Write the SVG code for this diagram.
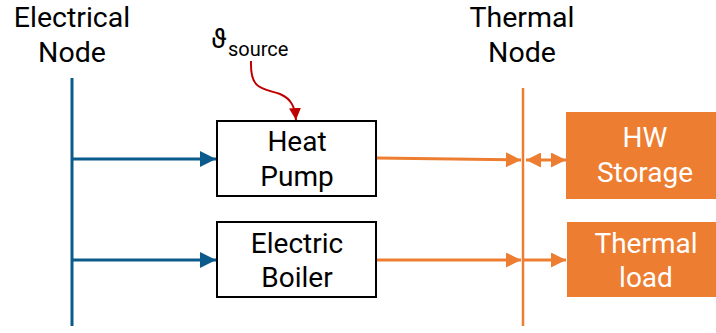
<svg xmlns="http://www.w3.org/2000/svg" width="716" height="333" viewBox="0 0 716 333">
<style>
text{font-family:Roboto,"Liberation Sans",sans-serif;text-anchor:middle}
.lbl{font-size:28.5px;fill:#000}
.box{fill:#fff;stroke:#000;stroke-width:2}
.bt{font-size:28px;fill:#000}
.obox{fill:#ed7d31}
.ot{font-size:28px;fill:#fff}
.blue{stroke:#0b5a8c;stroke-width:3;fill:none}
.orange{stroke:#ed7d31;stroke-width:3;fill:none}
</style>
<defs>
<marker id="ab" viewBox="0 0 10 10" refX="10" refY="5" markerWidth="16" markerHeight="16" markerUnits="userSpaceOnUse" orient="auto"><path d="M0,0 L10,5 L0,10 z" fill="#0b5a8c"/></marker>
<marker id="ao" viewBox="0 0 10 10" refX="10" refY="5" markerWidth="16" markerHeight="15" orient="auto" markerUnits="userSpaceOnUse"><path d="M0,0 L10,5 L0,10 z" fill="#ed7d31"/></marker>
<marker id="aos" viewBox="0 0 10 10" refX="0" refY="5" markerWidth="16" markerHeight="15" orient="auto" markerUnits="userSpaceOnUse"><path d="M10,0 L0,5 L10,10 z" fill="#ed7d31"/></marker>
<marker id="ar" viewBox="0 0 10 10" refX="10" refY="5" markerWidth="12" markerHeight="12" markerUnits="userSpaceOnUse" orient="auto"><path d="M0,0 L10,5 L0,10 z" fill="#c00000"/></marker>
</defs>
<g id="electrical-node">
<text class="lbl" x="72" y="27">Electrical</text>
<text class="lbl" x="72" y="62">Node</text>
<line class="blue" x1="72" y1="78" x2="72" y2="326"/>
</g>
<g id="thermal-node">
<text class="lbl" x="522" y="27">Thermal</text>
<text class="lbl" x="522" y="62">Node</text>
<line class="orange" x1="523" y1="88" x2="523" y2="326" style="stroke-width:2.5"/>
</g>
<g id="source">
<text x="211" y="48" style="text-anchor:start;font-size:27px">ϑ<tspan x="228" y="56" style="font-size:20px">source</tspan></text>
</g>
<g id="heat-pump">
<rect class="box" x="217" y="121" width="159" height="75"/>
<text class="bt" x="297" y="151">Heat</text>
<text class="bt" x="297" y="186">Pump</text>
</g>
<g id="electric-boiler">
<rect class="box" x="217" y="222" width="159" height="75"/>
<text class="bt" x="297" y="253">Electric</text>
<text class="bt" x="297" y="287">Boiler</text>
</g>
<g id="hw-storage">
<rect class="obox" x="566" y="112" width="150" height="87"/>
<text class="ot" x="645" y="147">HW</text>
<text class="ot" x="645" y="182">Storage</text>
</g>
<g id="thermal-load">
<rect class="obox" x="567" y="222" width="149" height="75"/>
<text class="ot" x="646" y="253">Thermal</text>
<text class="ot" x="646" y="287">load</text>
</g>
<g id="connectors">
<line class="blue" x1="72" y1="159" x2="216" y2="159" marker-end="url(#ab)"/>
<line class="blue" x1="72" y1="260" x2="216" y2="260" marker-end="url(#ab)"/>
<line class="orange" x1="377" y1="158" x2="521" y2="160" marker-end="url(#ao)"/>
<line class="orange" x1="526" y1="160" x2="566" y2="160" marker-start="url(#aos)" marker-end="url(#ao)"/>
<line class="orange" x1="377" y1="260" x2="521" y2="260" marker-end="url(#ao)"/>
<line class="orange" x1="524" y1="260" x2="566" y2="260" marker-end="url(#ao)"/>
<path d="M251,61 C250,90 262,88 280,94 C292,99 295,108 296,120" stroke="#c00000" stroke-width="2" fill="none" marker-end="url(#ar)"/>
</g>
</svg>
